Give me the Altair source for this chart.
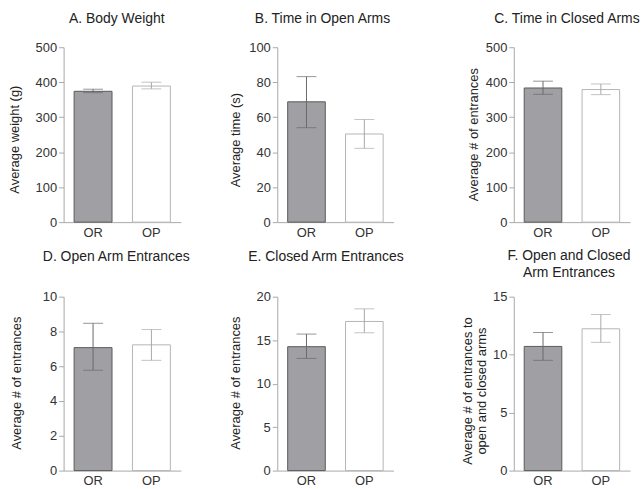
import altair as alt
import pandas as pd

groups = ["OR", "OP"]

# A. Body Weight
weight_mean = [374, 389]
weight_lo = [370, 381]
weight_hi = [380, 400]
# B. Time in Open Arms
open_time_mean = [68.8, 50.4]
open_time_lo = [54.0, 42.2]
open_time_hi = [83.2, 58.7]
# C. Time in Closed Arms
closed_time_mean = [383.5, 379]
closed_time_lo = [365.5, 364.5]
closed_time_hi = [403, 395]
# D. Open Arm Entrances
open_ent_mean = [7.07, 7.23]
open_ent_lo = [5.77, 6.34]
open_ent_hi = [8.47, 8.11]
# E. Closed Arm Entrances
closed_ent_mean = [14.25, 17.15]
closed_ent_lo = [12.9, 15.85]
closed_ent_hi = [15.7, 18.6]
# F. Open and Closed Arm Entrances
total_ent_mean = [10.71, 12.23]
total_ent_lo = [9.51, 11.06]
total_ent_hi = [11.91, 13.46]

bar_fill = ["#a0a0a4", "#ffffff"]
bar_stroke = ["#5a5a5a", "#b4b4b4"]
err_color = ["#6a6a6a", "#a8a8a8"]

FONT = "Liberation Sans"


def panel(title, ytitle, mean, lo, hi, ymax, step, width, height,
          title_dx, title_offset, title_x, title_y):
    df = pd.DataFrame({"group": groups, "mean": mean, "lo": lo, "hi": hi})
    base = alt.Chart(df)
    xaxis = alt.Axis(title=None, labelAngle=0, ticks=False,
                     labelPadding=4, labelFontSize=13)
    x = alt.X("group:N", sort=groups,
              scale=alt.Scale(paddingInner=0.35, paddingOuter=0.18),
              axis=xaxis)
    yscale = alt.Scale(domain=[0, ymax], nice=False)
    yvals = list(range(0, int(ymax) + 1, step))
    yaxis = alt.Axis(title=ytitle, values=yvals, tickCount=len(yvals),
                     tickSize=5, labelPadding=2, labelFontSize=13,
                     labelOverlap=False, labelFlush=False,
                     titleFontSize=13, titleX=title_x, titleY=title_y)
    ecolor = alt.Color("group:N", scale=alt.Scale(domain=groups, range=err_color), legend=None)
    bars = base.mark_bar(strokeWidth=1).encode(
        x=x,
        y=alt.Y("mean:Q", scale=yscale, axis=yaxis),
        fill=alt.Fill("group:N", scale=alt.Scale(domain=groups, range=bar_fill), legend=None),
        stroke=alt.Stroke("group:N", scale=alt.Scale(domain=groups, range=bar_stroke), legend=None),
    )
    rule = base.mark_rule(strokeWidth=1).encode(
        x=x,
        y=alt.Y("lo:Q", scale=yscale, axis=yaxis),
        y2="hi:Q",
        color=ecolor,
    )
    cap_hi = base.mark_tick(orient="horizontal", size=20, thickness=1).encode(
        x=x,
        y=alt.Y("hi:Q", scale=yscale, axis=yaxis),
        color=ecolor,
    )
    cap_lo = base.mark_tick(orient="horizontal", size=20, thickness=1).encode(
        x=x,
        y=alt.Y("lo:Q", scale=yscale, axis=yaxis),
        color=ecolor,
    )
    return alt.layer(bars, rule, cap_hi, cap_lo).properties(
        width=width, height=height,
        title=alt.TitleParams(text=title, fontSize=14, font=FONT,
                              fontWeight="normal", color="#222222",
                              anchor="middle", frame="group", dx=title_dx,
                              offset=title_offset, baseline="alphabetic",
                              lineHeight=17),
    )


def spacer(w):
    return alt.Chart(pd.DataFrame({"a": [0]})).mark_point(opacity=0).encode(
        x=alt.value(0), y=alt.value(0)
    ).properties(width=w, height=1)


A = panel("A. Body Weight", "Average weight (g)", weight_mean, weight_lo, weight_hi,
          500, 100, 118, 176, -5.5, 4, -42, 92.5)
B = panel("B. Time in Open Arms", "Average time (s)", open_time_mean, open_time_lo, open_time_hi,
          100, 20, 117, 176, -13, 4, -35, 93)
C = panel("C. Time in Closed Arms", "Average # of entrances", closed_time_mean, closed_time_lo,
          closed_time_hi, 500, 100, 117, 176, -5, 4, -34, 87.5)
D = panel("D. Open Arm Entrances", "Average # of entrances", open_ent_mean, open_ent_lo,
          open_ent_hi, 10, 2, 118, 175, -6, 16, -40, 86.5)
E = panel("E. Closed Arm Entrances", "Average # of entrances", closed_ent_mean, closed_ent_lo,
          closed_ent_hi, 20, 5, 117, 175, -9.5, 16, -35, 86.5)
F = panel(["F. Open and Closed", "Arm Entrances"],
          ["Average # of entrances to", "open and closed arms"],
          total_ent_mean, total_ent_lo, total_ent_hi, 15, 5, 117, 175, -3, 0, -40, 94.5)

chart = alt.concat(
    A, spacer(97), B, spacer(121), C,
    D, spacer(97), E, spacer(121), F,
    columns=5, spacing={"row": 75, "column": 0}, bounds="flush", align="each",
).properties(
    padding={"left": 9, "top": 11, "right": 0, "bottom": 0}
).configure_view(stroke=None).configure_axis(
    grid=False, domainColor="#a8a8a8", tickColor="#a8a8a8",
    labelColor="#333333", titleColor="#222222",
    labelFont=FONT, titleFont=FONT, titleFontWeight="normal",
    labelFontSize=13, titleFontSize=13,
).configure_title(font=FONT)

chart.save("out.html", embed_options={"renderer": "svg", "actions": False})
